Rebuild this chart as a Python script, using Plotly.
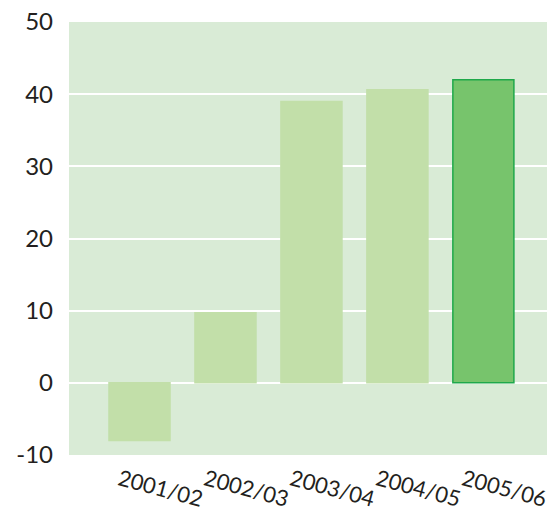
import plotly.graph_objects as go

categories = ["2001/02", "2002/03", "2003/04", "2004/05", "2005/06"]
values = [-8.0, 9.7, 39.0, 40.6, 42.0]
bar_colors = ["#c2dfa9", "#c2dfa9", "#c2dfa9", "#c2dfa9", "#77c46c"]
line_colors = ["#c2dfa9", "#c2dfa9", "#c2dfa9", "#c2dfa9", "#1fa84a"]
y_ticks = [-10, 0, 10, 20, 30, 40, 50]
y_labels = ["-10", "0", "10", "20", "30", "40", "50"]

fig = go.Figure(go.Bar(
    x=categories, y=values,
    marker=dict(color=bar_colors, line=dict(color=line_colors, width=1.5)),
    width=0.71,
))

fig.update_layout(
    width=558, height=513,
    margin=dict(l=69, r=11, t=22, b=58, autoexpand=False),
    paper_bgcolor="white",
    plot_bgcolor="#d9ebd6",
    showlegend=False,
    font=dict(family="Lato", color="#231f20"),
    xaxis=dict(
        type="category", range=[-0.82, 4.74], automargin=False,
        showgrid=False, zeroline=False, showline=False,
        tickangle=15, tickfont=dict(size=22), ticks="",
        ticklabelstandoff=7, ticklabelshift=-20,
    ),
    yaxis=dict(
        range=[-10, 50], tickvals=y_ticks, ticktext=y_labels, automargin=False,
        showgrid=True, gridcolor="white", gridwidth=2,
        zeroline=True, zerolinecolor="white", zerolinewidth=2,
        showline=False, tickfont=dict(size=24), ticks="", ticklen=0,
        ticklabelstandoff=15,
    ),
)

fig.write_html("out.html")
